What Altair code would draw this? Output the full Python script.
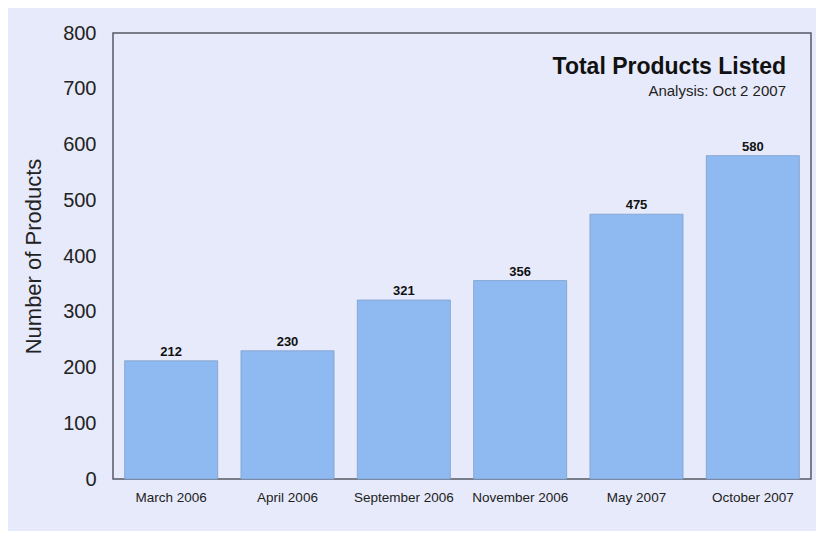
import altair as alt
import pandas as pd

categories = ["March 2006", "April 2006", "September 2006", "November 2006", "May 2007", "October 2007"]
values = [212, 230, 321, 356, 475, 580]

df = pd.DataFrame({"period": categories, "count": values})

bg = "#E7EAFA"

base = alt.Chart(df).encode(
    x=alt.X("period:N", sort=categories, title=None,
            scale=alt.Scale(paddingInner=0.2, paddingOuter=0.1),
            axis=alt.Axis(labelAngle=0, labelFontSize=13.5, labelColor="#222",
                          labelFont="Liberation Sans", labelPadding=11,
                          ticks=False, domain=False)),
    y=alt.Y("count:Q", title="Number of Products",
            scale=alt.Scale(domain=[0, 800], nice=False),
            axis=alt.Axis(values=[0, 100, 200, 300, 400, 500, 600, 700, 800],
                          labelFontSize=20, labelColor="#222", labelFont="Liberation Sans",
                          labelPadding=17, ticks=False, domain=False, grid=False,
                          titleFontSize=22, titleFontWeight="normal", titleColor="#222",
                          titleFont="Liberation Sans", titlePadding=17)),
)

bars = base.mark_bar(color="#8FB9F1", stroke="#7F9FCC", strokeWidth=0.8)
labels = base.mark_text(dy=-9, fontSize=13, fontWeight="bold", color="#111",
                        font="Liberation Sans").encode(text="count:Q")

chart = (bars + labels).properties(
    width=698, height=446,
    background=bg,
    padding={"left": 105, "top": 25, "right": 5, "bottom": 52},
    autosize=alt.AutoSizeParams(type="none"),
    title=alt.Title("Total Products Listed", subtitle="Analysis: Oct 2 2007",
                    anchor="end", orient="top", dy=80, dx=-25,
                    fontSize=23, fontWeight="bold", color="#111", font="Liberation Sans",
                    subtitleFontSize=15, subtitleColor="#222", subtitleFont="Liberation Sans",
                    subtitlePadding=5),
).configure_view(
    stroke="#555A66", strokeWidth=1.5, fill=bg
)

chart.save("out.html", embed_options={"renderer": "svg", "actions": False})
